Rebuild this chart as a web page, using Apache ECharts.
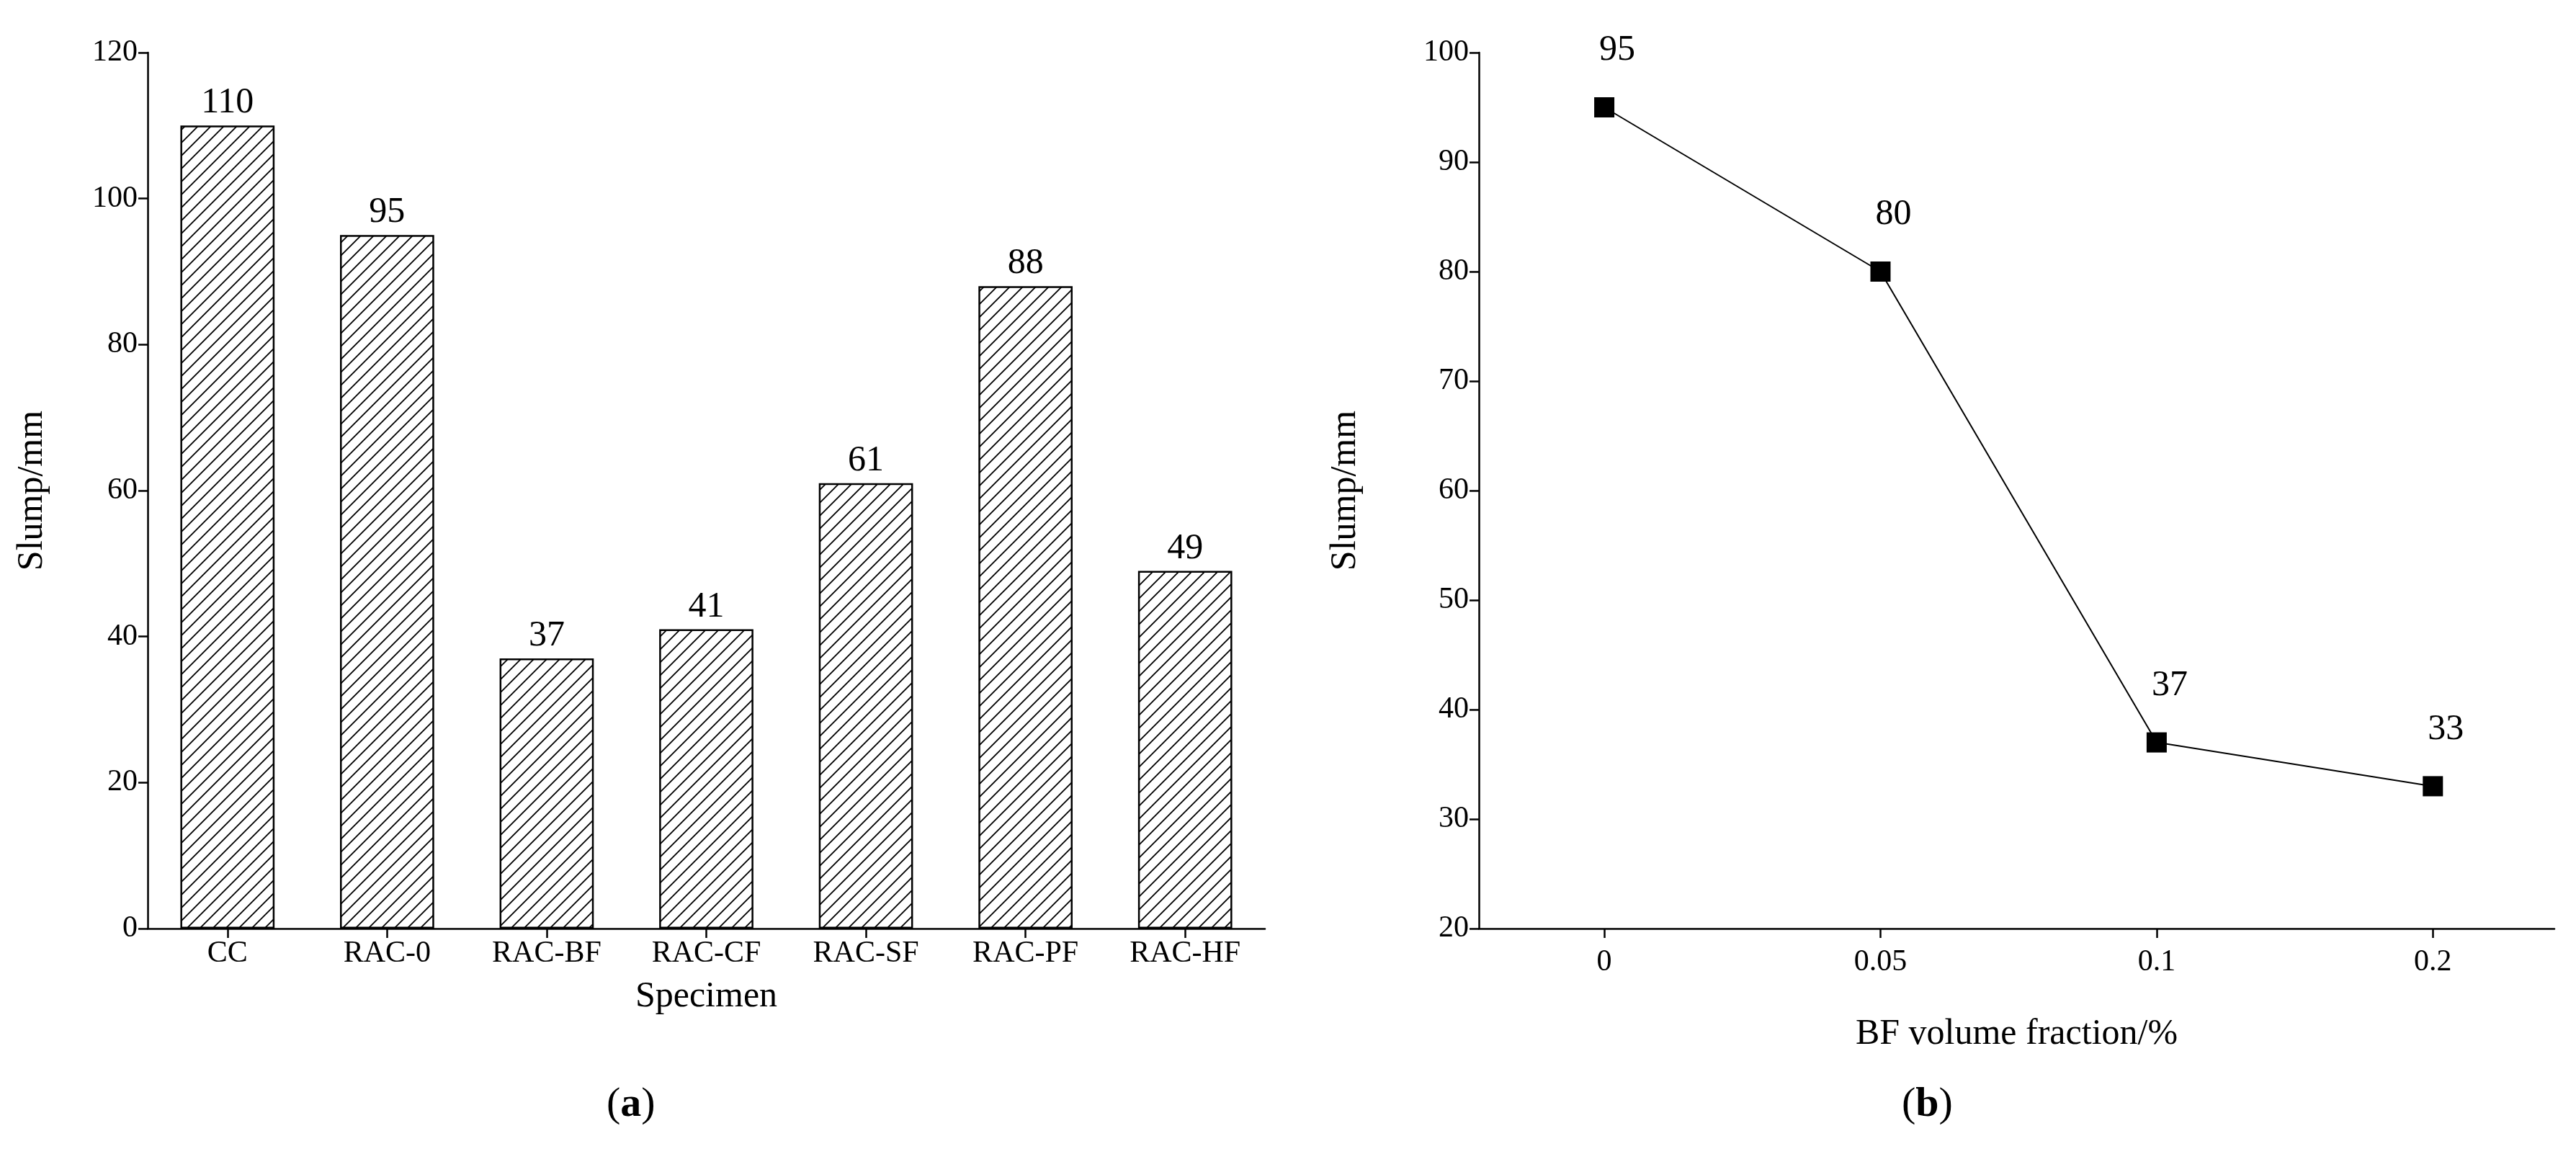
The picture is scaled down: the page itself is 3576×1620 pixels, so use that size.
<!DOCTYPE html>
<html>
<head>
<meta charset="utf-8">
<script src="https://cdn.jsdelivr.net/npm/echarts@6/dist/echarts.min.js"></script>
<style>html,body{margin:0;padding:0;background:#fff}#chart{width:3576px;height:1620px}</style>
</head>
<body>
<div id="chart"></div>
<script>
// (a) slump of each specimen
const specimens = ['CC', 'RAC-0', 'RAC-BF', 'RAC-CF', 'RAC-SF', 'RAC-PF', 'RAC-HF'];
const slumpA = [110, 95, 37, 41, 61, 88, 49];
// (b) slump vs BF volume fraction
const fractions = ['0', '0.05', '0.1', '0.2'];
const slumpB = [95, 80, 37, 33];

const font = 'Liberation Serif';

// hatch pattern for the bars
const makeHatch = () => {
  const c = document.createElement('canvas');
  c.width = 18; c.height = 18;
  const ctx = c.getContext('2d');
  ctx.fillStyle = '#fff';
  ctx.fillRect(0, 0, 18, 18);
  ctx.strokeStyle = '#000';
  ctx.lineWidth = 1.8;
  ctx.beginPath();
  ctx.moveTo(-2, 20); ctx.lineTo(20, -2);
  ctx.moveTo(-2, 2); ctx.lineTo(2, -2);
  ctx.moveTo(16, 20); ctx.lineTo(20, 16);
  ctx.stroke();
  return c;
}

const axisCommon = {
  axisLine: { show: true, onZero: false, lineStyle: { color: '#000', width: 2.5 } },
  axisTick: { show: true, length: 13, lineStyle: { color: '#000', width: 2.5 } },
  axisLabel: { color: '#000', fontFamily: font, fontSize: 42, margin: 14 },
  splitLine: { show: false },
  nameTextStyle: { color: '#000', fontFamily: font, fontSize: 50 },
  nameLocation: 'middle'
};

const chart = echarts.init(document.getElementById('chart'));
chart.setOption({
  animation: false,
  backgroundColor: '#fff',
  grid: [
    { left: 205, right: 1820, top: 73, bottom: 331 },
    { left: 2053, right: 30, top: 73, bottom: 331 }
  ],
  xAxis: [
    Object.assign({}, axisCommon, {
      gridIndex: 0, type: 'category', data: specimens, name: 'Specimen', nameGap: 70,
      axisTick: Object.assign({}, axisCommon.axisTick, { alignWithLabel: true })
    }),
    Object.assign({}, axisCommon, {
      gridIndex: 1, type: 'value', min: -0.454, max: 3.44, name: 'BF volume fraction/%', nameGap: 122,
      axisTick: Object.assign({}, axisCommon.axisTick, { customValues: [0, 1, 2, 3] }),
      axisLabel: Object.assign({}, axisCommon.axisLabel, {
        customValues: [0, 1, 2, 3], margin: 26,
        formatter: v => fractions[Math.round(v)]
      })
    })
  ],
  yAxis: [
    Object.assign({}, axisCommon, {
      gridIndex: 0, type: 'value', min: 0, max: 120, interval: 20, name: 'Slump/mm', nameGap: 135
    }),
    Object.assign({}, axisCommon, {
      gridIndex: 1, type: 'value', min: 20, max: 100, interval: 10, name: 'Slump/mm', nameGap: 160
    })
  ],
  series: [
    {
      type: 'bar', xAxisIndex: 0, yAxisIndex: 0, data: slumpA, barWidth: '59%',
      itemStyle: { color: { image: makeHatch(), repeat: 'repeat' }, borderColor: '#000', borderWidth: 2.5 },
      label: { show: true, position: 'top', distance: 6, color: '#000', fontFamily: font, fontSize: 50 }
    },
    {
      type: 'line', xAxisIndex: 1, yAxisIndex: 1,
      data: slumpB.map((v, i) => [i, v]),
      symbol: 'rect', symbolSize: 28,
      lineStyle: { color: '#000', width: 2 },
      itemStyle: { color: '#000' },
      label: { show: true, position: 'top', distance: 40, offset: [18, 0], color: '#000', fontFamily: font, fontSize: 50 }
    }
  ],
  graphic: [
    { type: 'text', left: 842, top: 1505, style: { text: '({b|a})', rich: { b: { fontWeight: 'bold', fontFamily: font, fontSize: 58 } }, fontFamily: font, fontSize: 58, fill: '#000' } },
    { type: 'text', left: 2640, top: 1505, style: { text: '({b|b})', rich: { b: { fontWeight: 'bold', fontFamily: font, fontSize: 58 } }, fontFamily: font, fontSize: 58, fill: '#000' } }
  ]
});
</script>
</body>
</html>
